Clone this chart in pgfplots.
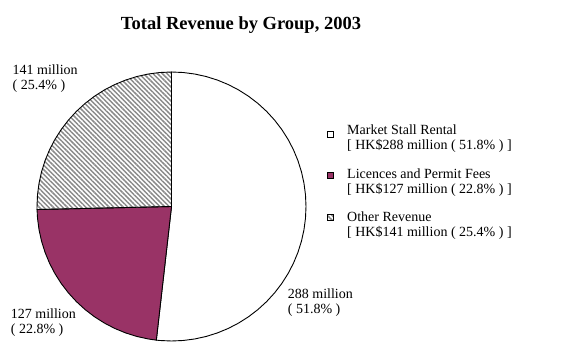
\documentclass[border=0pt]{standalone}
\usepackage{pgfplots}
\pgfplotsset{compat=1.18}
\usepackage{fontspec}
\setmainfont{Liberation Serif}
\usetikzlibrary{patterns.meta}
\definecolor{plum}{HTML}{993366}
\definecolor{hatch}{HTML}{8A8A8A}
\begin{document}
\begin{tikzpicture}[font=\fontsize{14bp}{15bp}\selectfont,
  hatched/.style={pattern={Lines[angle=-45, distance=3.3bp, line width=1.5bp]}, pattern color=hatch}]
\useasboundingbox (0,0) rectangle (572bp,364bp);
% pie axis: values 288, 127, 141 (HK$ million) -> 186.47, 82.23, 91.29 degrees
\begin{axis}[at={(171.5bp,157.5bp)}, anchor=center, scale only axis,
  width=269bp, height=269bp, xmin=-1, xmax=1, ymin=-1, ymax=1,
  hide axis, clip=false]
  \addplot[data cs=polar, fill=white, draw=black, line width=0.9bp] coordinates {
    (0,0) (263.52,1) (265,1) (270,1) (275,1) (280,1) (285,1) (290,1) (295,1)
    (300,1) (305,1) (310,1) (315,1) (320,1) (325,1) (330,1) (335,1) (340,1)
    (345,1) (350,1) (355,1) (360,1) (365,1) (370,1) (375,1) (380,1) (385,1)
    (390,1) (395,1) (400,1) (405,1) (410,1) (415,1) (420,1) (425,1) (430,1)
    (435,1) (440,1) (445,1) (450,1)} -- cycle;
  \addplot[data cs=polar, fill=plum, draw=black, line width=0.9bp] coordinates {
    (0,0) (181.29,1) (185,1) (190,1) (195,1) (200,1) (205,1) (210,1) (215,1)
    (220,1) (225,1) (230,1) (235,1) (240,1) (245,1) (250,1) (255,1) (260,1)
    (263.52,1)} -- cycle;
  \addplot[data cs=polar, hatched, draw=black, line width=0.9bp] coordinates {
    (0,0) (90,1) (95,1) (100,1) (105,1) (110,1) (115,1) (120,1) (125,1)
    (130,1) (135,1) (140,1) (145,1) (150,1) (155,1) (160,1) (165,1) (170,1)
    (175,1) (180,1) (181.29,1)} -- cycle;
\end{axis}
% canvas axis (1 unit = 1bp) for texts and legend keys
\begin{axis}[at={(0,0)}, anchor=south west, scale only axis,
  width=572bp, height=364bp, xmin=0, xmax=572, ymin=0, ymax=364,
  hide axis, clip=false]
  \node[anchor=base, inner sep=0pt, font=\bfseries\fontsize{18.5bp}{21bp}\selectfont]
    at (axis cs:241,334) {Total Revenue by Group, 2003};
  \node[anchor=base west, inner sep=0pt] at (axis cs:12.5,289.7)
    {\begin{tabular}[t]{@{}l@{}}141 million\\( 25.4\% )\end{tabular}};
  \node[anchor=base west, inner sep=0pt] at (axis cs:10.7,45.7)
    {\begin{tabular}[t]{@{}l@{}}127 million\\( 22.8\% )\end{tabular}};
  \node[anchor=base west, inner sep=0pt] at (axis cs:287.7,65.7)
    {\begin{tabular}[t]{@{}l@{}}288 million\\( 51.8\% )\end{tabular}};
  % legend keys
  \addplot[fill=white, draw=black, line width=0.8bp] coordinates
    {(327.3,226.5) (333.3,226.5) (333.3,232.5) (327.3,232.5)} -- cycle;
  \addplot[fill=plum, draw=black, line width=0.8bp] coordinates
    {(327.3,186) (333.3,186) (333.3,192) (327.3,192)} -- cycle;
  \addplot[hatched, draw=black, line width=0.8bp] coordinates
    {(327.3,143.5) (333.3,143.5) (333.3,149.5) (327.3,149.5)} -- cycle;
  % legend texts
  \node[anchor=base west, inner sep=0pt] at (axis cs:347,229)
    {\begin{tabular}[t]{@{}l@{}}Market Stall Rental\\{}[ HK\$288 million ( 51.8\% ) ]\end{tabular}};
  \node[anchor=base west, inner sep=0pt] at (axis cs:347,185.5)
    {\begin{tabular}[t]{@{}l@{}}Licences and Permit Fees\\{}[ HK\$127 million ( 22.8\% ) ]\end{tabular}};
  \node[anchor=base west, inner sep=0pt] at (axis cs:347,142)
    {\begin{tabular}[t]{@{}l@{}}Other Revenue\\{}[ HK\$141 million ( 25.4\% ) ]\end{tabular}};
\end{axis}
\end{tikzpicture}
\end{document}
